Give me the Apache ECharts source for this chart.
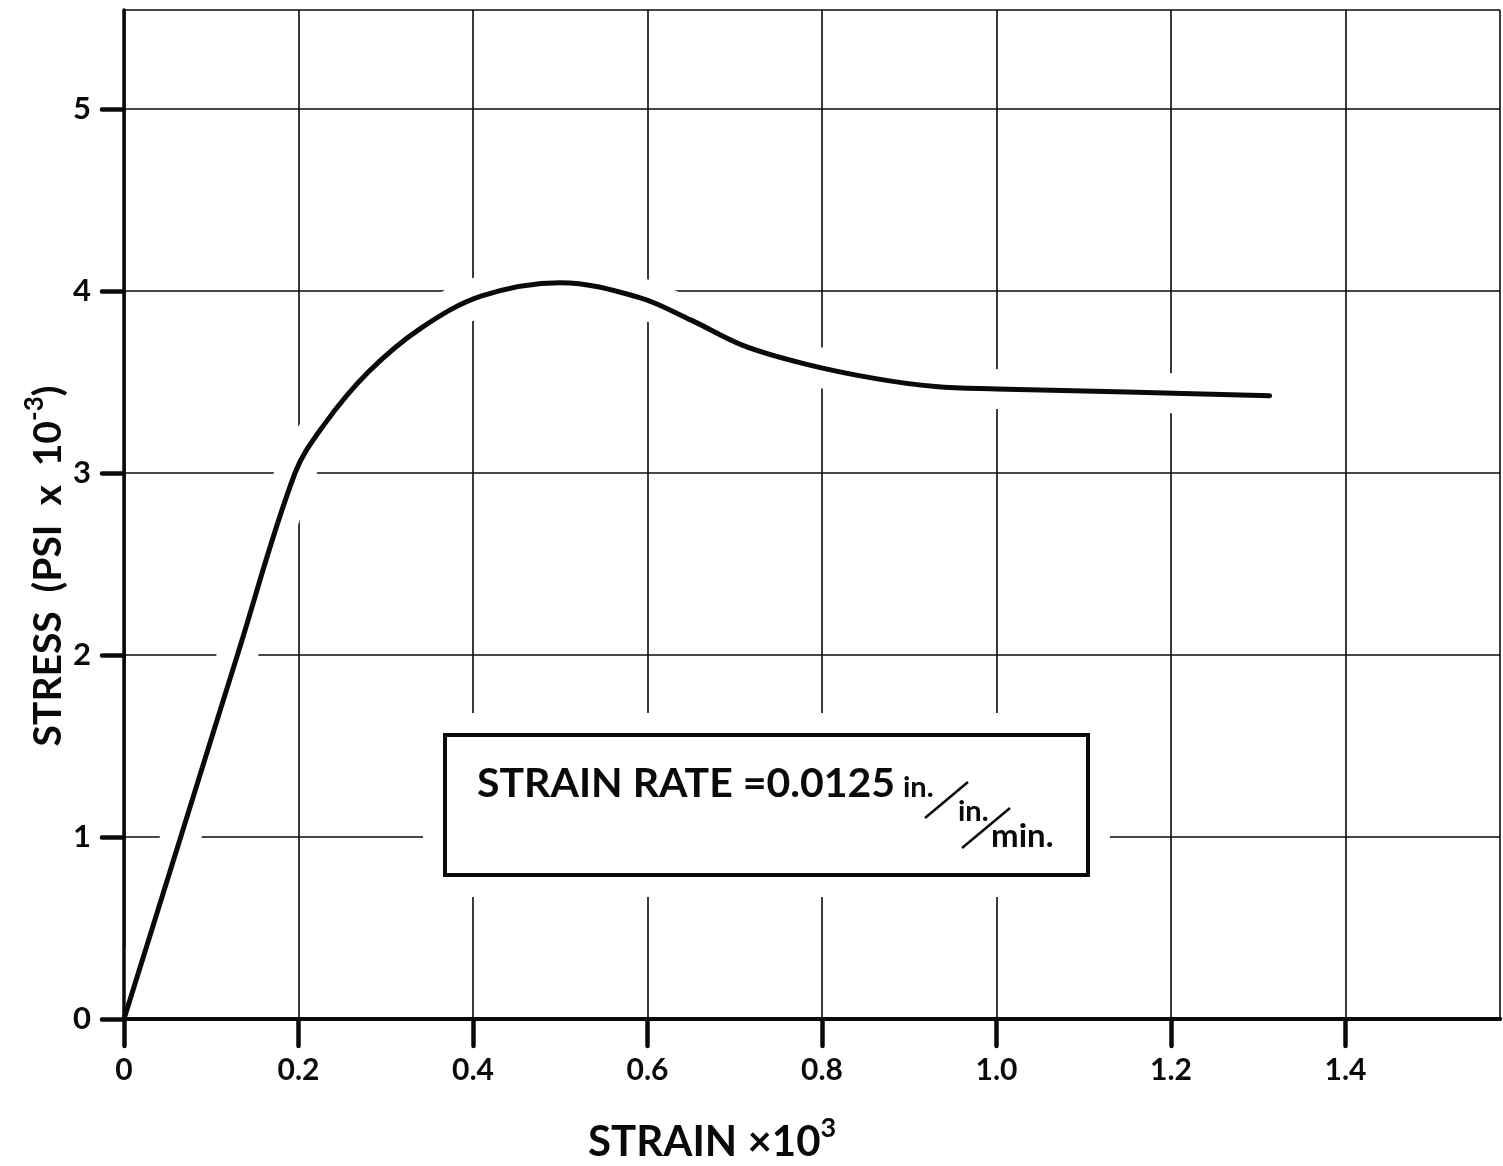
<!DOCTYPE html>
<html>
<head>
<meta charset="utf-8">
<title>Stress–strain curve</title>
<script src="https://cdn.jsdelivr.net/npm/echarts@6/dist/echarts.min.js"></script>
<style>
  html, body { margin: 0; padding: 0; background: #fff; }
  #chart { width: 1503px; height: 1166px; }
</style>
</head>
<body>
<div id="chart"></div>
<script>
// Strain (x 10^3) and stress (psi x 10^-3) along the loading curve
const strain = [0, 0.065, 0.13, 0.196, 0.23, 0.28, 0.34, 0.41, 0.50, 0.59, 0.65, 0.71, 0.78, 0.86, 0.93, 1.00, 1.15, 1.313];
const stress = [0, 1.0, 2.0, 3.0, 3.27, 3.555, 3.795, 3.973, 4.046, 3.965, 3.84, 3.70, 3.60, 3.52, 3.475, 3.462, 3.445, 3.425];

// Tick values shown on each axis
const xTicks = [0, 0.2, 0.4, 0.6, 0.8, 1.0, 1.2, 1.4];
const xTickLabels = ['0', '0.2', '0.4', '0.6', '0.8', '1.0', '1.2', '1.4'];
const yTicks = [0, 1, 2, 3, 4, 5];
const yTickLabels = ['0', '1', '2', '3', '4', '5'];

const X_MAX = 1.577;
const Y_MAX = 5.544;

const curve = strain.map((s, i) => [s, stress[i]]);

const FONT = 'Lato';
const INK = '#0a0a0a';

function xLabel(v) {
  const i = xTicks.findIndex(t => Math.abs(t - v) < 1e-6);
  return i >= 0 ? xTickLabels[i] : '';
}
function yLabel(v) {
  const i = yTicks.findIndex(t => Math.abs(t - v) < 1e-6);
  return i >= 0 ? yTickLabels[i] : '';
}

const chart = echarts.init(document.getElementById('chart'), null, { renderer: 'canvas' });

function txt(x, y, text, size) {
  return { type: 'text', z: 4, x: x, y: y,
    style: { text: text, fontFamily: FONT, fontWeight: 'bold', fontSize: size, fill: INK, verticalAlign: 'middle' } };
}

const option = {
  backgroundColor: '#ffffff',
  animation: false,
  grid: { left: 124, right: 3, top: 10, bottom: 147, containLabel: false },
  xAxis: [
    {
      // gridlines + top border
      type: 'value', position: 'top', min: 0, max: X_MAX, interval: 0.2, z: 0,
      axisLine: { show: true, lineStyle: { color: INK, width: 4 } },
      axisTick: { show: false }, axisLabel: { show: false },
      splitLine: { show: true, lineStyle: { color: INK, width: 1.6 } }
    },
    {
      // bottom axis with ticks and labels
      type: 'value', position: 'bottom', min: 0, max: X_MAX, interval: 0.2, z: 5,
      axisLine: { show: true, lineStyle: { color: INK, width: 4 } },
      axisTick: { show: true, inside: false, length: 27, customValues: xTicks,
                  lineStyle: { color: INK, width: 4.5, cap: 'round' } },
      axisLabel: { show: true, margin: 36, customValues: xTicks, formatter: xLabel,
                   fontFamily: FONT, fontWeight: 'bold', fontSize: 30, color: INK },
      splitLine: { show: false }
    }
  ],
  yAxis: [
    {
      // gridlines + right border
      type: 'value', position: 'right', min: 0, max: Y_MAX, interval: 1, z: 0,
      axisLine: { show: true, lineStyle: { color: INK, width: 2.5 } },
      axisTick: { show: false }, axisLabel: { show: false },
      splitLine: { show: true, lineStyle: { color: INK, width: 1.6 } }
    },
    {
      // left axis with ticks and labels
      type: 'value', position: 'left', min: 0, max: Y_MAX, interval: 1, z: 5,
      axisLine: { show: true, lineStyle: { color: INK, width: 3.5 } },
      axisTick: { show: true, inside: false, length: 22, customValues: yTicks,
                  lineStyle: { color: INK, width: 4.5, cap: 'round' } },
      axisLabel: { show: true, margin: 33, customValues: yTicks, formatter: yLabel,
                   fontFamily: FONT, fontWeight: 'bold', fontSize: 31, color: INK },
      splitLine: { show: false }
    }
  ],
  series: [
    {
      // white clearance around the curve that interrupts the grid
      name: 'clearance', type: 'line', xAxisIndex: 0, yAxisIndex: 0, z: 1,
      data: curve, smooth: 0.35, showSymbol: false, silent: true,
      lineStyle: { color: '#ffffff', width: 40, cap: 'butt' }
    },
    {
      name: 'stress', type: 'line', xAxisIndex: 1, yAxisIndex: 1, z: 6,
      data: curve, smooth: 0.35, showSymbol: false,
      lineStyle: { color: INK, width: 5, cap: 'round', join: 'round' }
    }
  ],
  graphic: [
    // clearance around the annotation box
    { type: 'rect', z: 3, shape: { x: 423, y: 713, width: 687, height: 184 },
      style: { fill: '#ffffff' } },
    { type: 'rect', z: 4, shape: { x: 445, y: 735, width: 643, height: 140 },
      style: { fill: '#ffffff', stroke: INK, lineWidth: 4 } },
    txt(477, 784, 'STRAIN RATE =0.0125', 41),
    txt(903, 788, 'in.', 29),
    { type: 'line', z: 4, shape: { x1: 925, y1: 818, x2: 968, y2: 782 },
      style: { stroke: INK, lineWidth: 2.5 } },
    txt(958, 812, 'in.', 29),
    { type: 'line', z: 4, shape: { x1: 962, y1: 848, x2: 1010, y2: 808 },
      style: { stroke: INK, lineWidth: 2.5 } },
    txt(991, 836, 'min.', 33),

    // x axis title
    { type: 'text', z: 4, x: 588, y: 1163,
      style: {
        text: '{a|STRAIN ×10}{s|3}',
        verticalAlign: 'bottom',
        rich: {
          a: { fontFamily: FONT, fontWeight: 'bold', fontSize: 42, lineHeight: 48, fill: INK, verticalAlign: 'bottom' },
          s: { fontFamily: FONT, fontWeight: 'bold', fontSize: 27, lineHeight: 27, fill: INK, verticalAlign: 'top' }
        }
      } },

    // y axis title (reads bottom to top)
    { type: 'text', z: 4, x: 45, y: 566, rotation: Math.PI / 2,
      style: {
        text: '{a|STRESS  (PSI  x  10}{s|-3}{a|)}',
        align: 'center', verticalAlign: 'middle',
        rich: {
          a: { fontFamily: FONT, fontWeight: 'bold', fontSize: 39, lineHeight: 46, fill: INK, verticalAlign: 'bottom' },
          s: { fontFamily: FONT, fontWeight: 'bold', fontSize: 26, lineHeight: 26, fill: INK, verticalAlign: 'top' }
        }
      } }
  ]
};

chart.setOption(option);
</script>
</body>
</html>
